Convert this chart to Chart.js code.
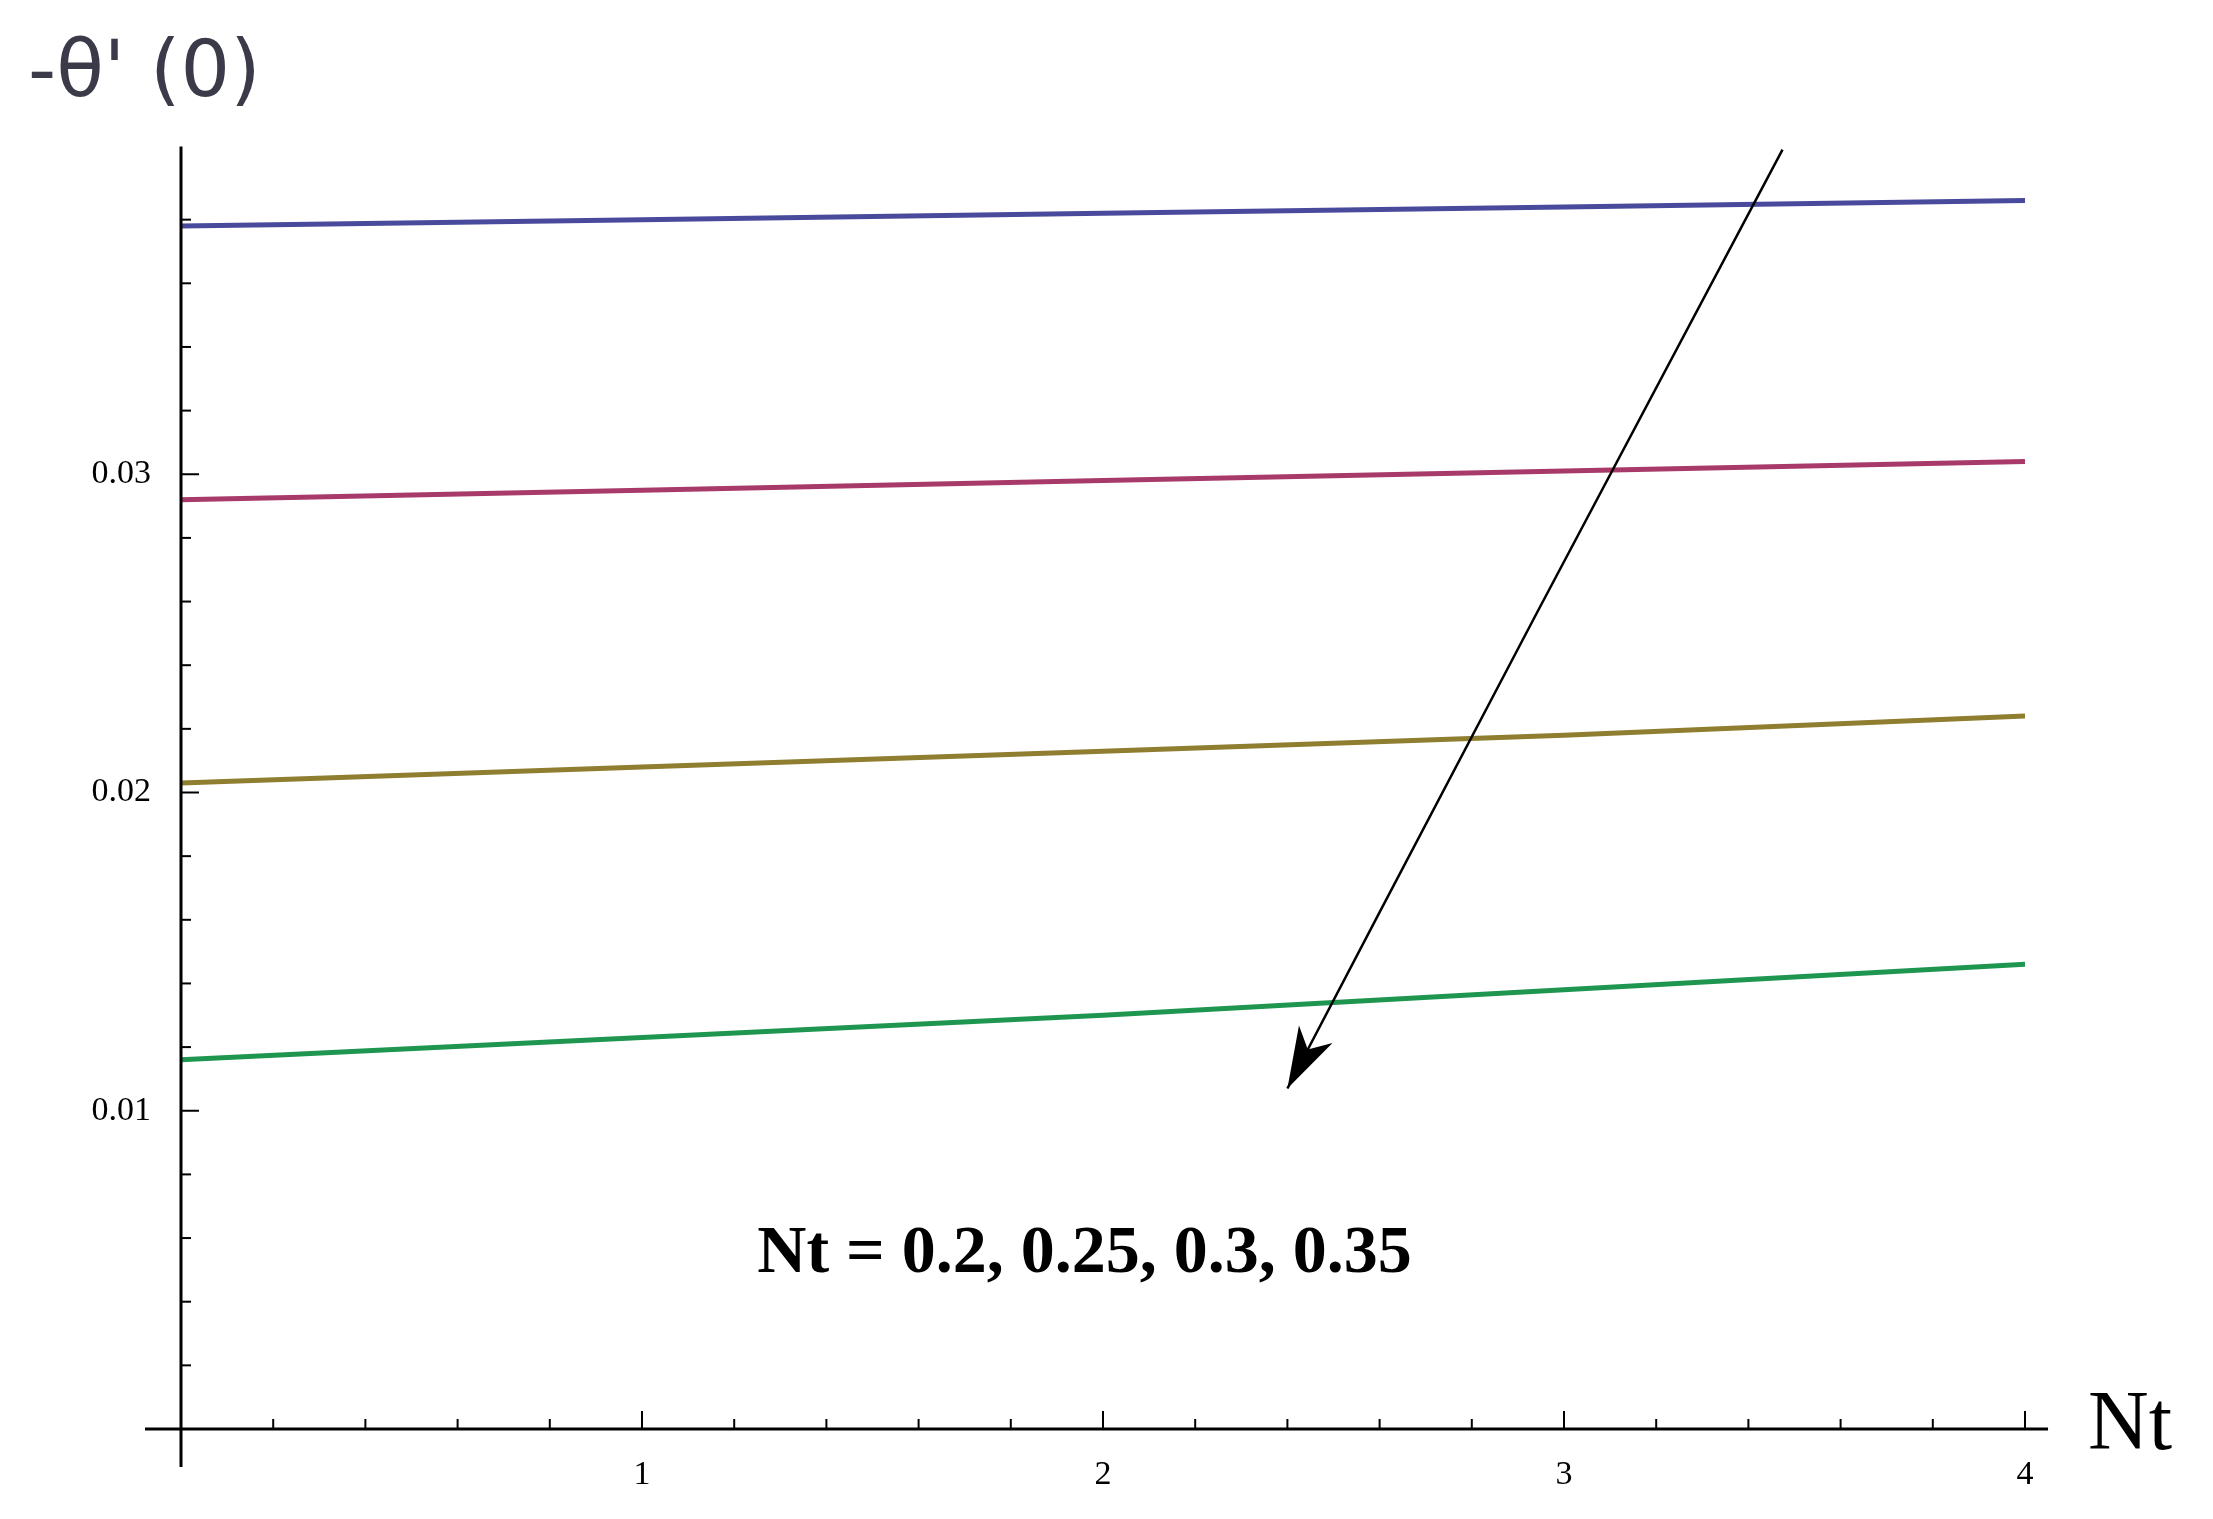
<!DOCTYPE html>
<html><head><meta charset="utf-8">
<script src="https://cdn.jsdelivr.net/npm/chart.js@4"></script>
<style>html,body{margin:0;background:#fff}#wrap{width:2213px;height:1519px}</style>
</head><body><div id="wrap"><canvas id="c" width="2213" height="1519"></canvas></div>
<script>
const ntValues = [0, 1, 2, 3, 4];
const seriesA = [0.0378, 0.0380, 0.0382, 0.0384, 0.0386];
const seriesB = [0.0292, 0.0295, 0.0298, 0.0301, 0.0304];
const seriesC = [0.0203, 0.0208, 0.0213, 0.0218, 0.0224];
const seriesD = [0.0116, 0.0123, 0.0130, 0.0138, 0.0146];
const seriesColors = ['#4a4a9c', '#a83a6a', '#8f7d30', '#1f9650'];
const arrowX = [3.474, 3.10, 2.79, 2.40];
const arrowY = [0.0402, 0.0300, 0.0215, 0.0107];
const noteText = 'Nt = 0.2, 0.25, 0.3, 0.35';
const notePos = [1.96, 0.0055];

const mk = (d, i) => ({ data: ntValues.map((x, k) => ({ x, y: d[k] })), borderColor: seriesColors[i], borderWidth: 5, pointRadius: 0, tension: 0 });

const drawExtras = {
  id: 'extras',
  afterDraw(chart) {
    const { ctx, scales: { x, y } } = chart;
    const x0 = x.getPixelForValue(0), y0 = y.getPixelForValue(0);
    ctx.save();
    ctx.strokeStyle = '#000'; ctx.lineWidth = 3;
    ctx.beginPath();
    ctx.moveTo(x0, y.getPixelForValue(0.0403)); ctx.lineTo(x0, y0 + 38);
    ctx.moveTo(x0 - 36, y0); ctx.lineTo(x.getPixelForValue(4.05), y0);
    ctx.stroke();
    ctx.lineWidth = 2;
    for (let v = 0.2; v <= 4.001; v += 0.2) {
      const px = x.getPixelForValue(v), major = Math.abs(v - Math.round(v)) < 1e-6;
      ctx.beginPath(); ctx.moveTo(px, y0); ctx.lineTo(px, y0 - (major ? 18 : 10)); ctx.stroke();
    }
    for (let v = 0.002; v <= 0.0381; v += 0.002) {
      const py = y.getPixelForValue(v), major = Math.abs(v * 100 - Math.round(v * 100)) < 1e-6;
      ctx.beginPath(); ctx.moveTo(x0, py); ctx.lineTo(x0 + (major ? 18 : 10), py); ctx.stroke();
    }
    // arrow (smooth curve through points)
    const pts = arrowX.map((a, i) => [x.getPixelForValue(a), y.getPixelForValue(arrowY[i])]);
    ctx.lineWidth = 2.5;
    ctx.beginPath(); ctx.moveTo(pts[0][0], pts[0][1]);
    for (let i = 1; i < pts.length - 1; i++) {
      const mx = (pts[i][0] + pts[i + 1][0]) / 2, my = (pts[i][1] + pts[i + 1][1]) / 2;
      ctx.quadraticCurveTo(pts[i][0], pts[i][1], mx, my);
    }
    const [ex, ey] = pts[pts.length - 1], [px, py] = pts[pts.length - 2];
    ctx.lineTo(ex, ey);
    ctx.stroke();
    const ang = Math.atan2(ey - py, ex - px);
    ctx.fillStyle = '#000';
    ctx.beginPath(); ctx.moveTo(ex, ey);
    ctx.lineTo(ex - 64 * Math.cos(ang - 0.3), ey - 64 * Math.sin(ang - 0.3));
    ctx.lineTo(ex - 44 * Math.cos(ang), ey - 44 * Math.sin(ang));
    ctx.lineTo(ex - 64 * Math.cos(ang + 0.3), ey - 64 * Math.sin(ang + 0.3));
    ctx.closePath(); ctx.fill();
    // texts
    ctx.font = 'bold 68px "Liberation Serif"'; ctx.textAlign = 'center'; ctx.textBaseline = 'middle';
    ctx.fillText(noteText, x.getPixelForValue(notePos[0]), y.getPixelForValue(notePos[1]));
    ctx.font = '84px "Liberation Serif"'; ctx.textAlign = 'left';
    ctx.fillText('Nt', 2088, y0 - 2);
    ctx.font = '78px "DejaVu Sans"'; ctx.fillStyle = '#3a3a48';
    ctx.fillText("-θ' (0)", 28, 76);
    ctx.restore();
  }
};

new Chart(document.getElementById('c'), {
  type: 'line',
  data: { datasets: [mk(seriesA, 0), mk(seriesB, 1), mk(seriesC, 2), mk(seriesD, 3)] },
  options: {
    responsive: false, animation: false,
    layout: { padding: { top: 156, right: 188, left: 0, bottom: 0 } },
    plugins: { legend: { display: false }, tooltip: { enabled: false } },
    scales: {
      x: { type: 'linear', min: 0, max: 4, afterFit: s => { s.height = 90; },
        border: { display: false }, grid: { display: false },
        ticks: { stepSize: 1, color: '#000', padding: 18, font: { family: 'Liberation Serif', size: 34 }, callback: v => v === 0 ? '' : v } },
      y: { min: 0, max: 0.04, afterFit: s => { s.width = 181; },
        border: { display: false }, grid: { display: false },
        ticks: { stepSize: 0.01, color: '#000', padding: 22, font: { family: 'Liberation Serif', size: 34 },
          callback: v => (v > 0 && v < 0.035) ? v.toFixed(2) : '' } }
    }
  },
  plugins: [drawExtras]
});
</script></body></html>
